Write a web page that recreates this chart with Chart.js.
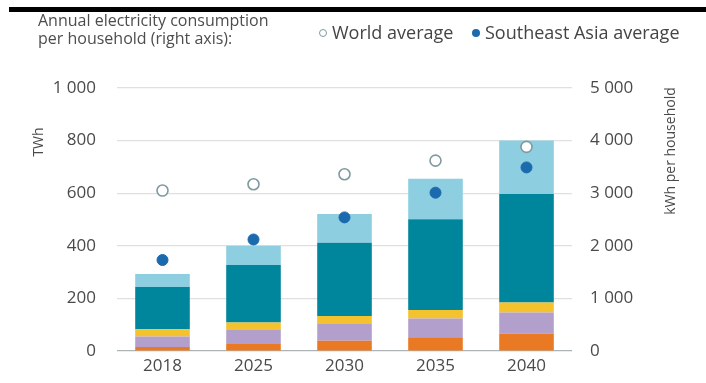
<!DOCTYPE html>
<html>
<head>
<meta charset="utf-8">
<script src="https://cdn.jsdelivr.net/npm/chart.js@4/dist/chart.umd.min.js"></script>
<style>
  html, body { margin: 0; padding: 0; background: #fff; }
  #wrap { position: relative; width: 706px; height: 383px; overflow: hidden; font-family: "Open Sans", sans-serif; color: #444; }
  #rule { position: absolute; left: 9px; right: 0; top: 7px; height: 5px; background: #000; }
  #cv { position: absolute; left: 0; top: 0; }
  .hdr { position: absolute; left: 38px; top: 11px; font-size: 16px; line-height: 18px; color: #4d4d4d; white-space: nowrap; }
  .leg { position: absolute; top: 22px; font-size: 18px; line-height: 20px; color: #444; white-space: nowrap; }
  .dot { display: inline-block; width: 8px; height: 8px; border-radius: 50%; margin-right: 5px; vertical-align: 2px; box-sizing: border-box; }
</style>
</head>
<body>
<div id="wrap">
  <div id="rule"></div>
  <canvas id="cv" width="706" height="383"></canvas>
  <div class="hdr">Annual electricity consumption<br>per household (right axis):</div>
  <div class="leg" style="left:319px"><span class="dot" style="border:1.3px solid #7f9aa0;background:#fff"></span>World average</div>
  <div class="leg" style="left:472px"><span class="dot" style="background:#1b6aae"></span>Southeast Asia average</div>
</div>
<script>
// Years on the category axis
const years = ['2018', '2025', '2030', '2035', '2040'];

// Stacked demand components (TWh), bottom to top
const seriesOrange = [15, 27, 39, 52, 67];
const seriesPurple = [40, 53, 64, 72, 79];
const seriesYellow = [28, 28, 30, 32, 38];
const seriesTeal   = [160, 219, 279, 345, 413];
const seriesLight  = [50, 73, 109, 154, 203];

// Annual electricity consumption per household (kWh, right axis)
const worldAverage = [3050, 3170, 3360, 3620, 3880];
const seaAverage   = [1730, 2120, 2540, 3010, 3490];

// Tick labels
const twhTicks = ['0', '200', '400', '600', '800', '1 000'];
const kwhTicks = ['0', '1 000', '2 000', '3 000', '4 000', '5 000'];

const FONT = '"Open Sans", sans-serif';
const TICK_COLOR = '#4a4a4a';
const TICK_SIZE = 17;

function bar(label, data, color) {
  return { type: 'bar', label, data, backgroundColor: color, borderWidth: 0,
           yAxisID: 'y', order: 2, barPercentage: 0.6, categoryPercentage: 1 };
}

const axisTitles = {
  id: 'axisTitles',
  afterDraw(chart) {
    const c = chart.ctx;
    const put = (text, x, y) => {
      c.save();
      c.fillStyle = '#4a4a4a';
      c.font = '14px ' + FONT;
      c.textAlign = 'center';
      c.textBaseline = 'middle';
      c.translate(x, y);
      c.rotate(-Math.PI / 2);
      c.fillText(text, 0, 0);
      c.restore();
    };
    put('TWh', 39, 142);
    put('kWh per household', 671, 151);
  }
};

new Chart(document.getElementById('cv'), {
  data: {
    labels: years,
    datasets: [
      bar('Orange', seriesOrange, '#e97a23'),
      bar('Purple', seriesPurple, '#b39fcb'),
      bar('Yellow', seriesYellow, '#f3c22c'),
      bar('Teal', seriesTeal, '#00869c'),
      bar('Light blue', seriesLight, '#8dcfe1'),
      { type: 'line', label: 'World average', data: worldAverage, yAxisID: 'y2', order: 0,
        showLine: false, pointStyle: 'circle', pointRadius: 5.5, pointHoverRadius: 5.5,
        pointBackgroundColor: '#ffffff', pointBorderColor: '#7f9aa0', pointBorderWidth: 1.6 },
      { type: 'line', label: 'Southeast Asia average', data: seaAverage, yAxisID: 'y2', order: 0,
        showLine: false, pointStyle: 'circle', pointRadius: 5.5, pointHoverRadius: 5.5,
        pointBackgroundColor: '#1b6aae', pointBorderColor: '#1b6aae', pointBorderWidth: 1 }
    ]
  },
  options: {
    responsive: false,
    animation: false,
    layout: { padding: { top: 88, left: 0, right: 0, bottom: 0 } },
    plugins: { legend: { display: false }, tooltip: { enabled: false } },
    scales: {
      x: {
        stacked: true,
        grid: { display: false, drawTicks: false },
        border: { display: false },
        ticks: { color: TICK_COLOR, font: { family: FONT, size: TICK_SIZE }, padding: 5 },
        afterFit(s) { s.height = 32; }
      },
      y: {
        stacked: true,
        position: 'left',
        min: 0, max: 1000,
        ticks: { stepSize: 200, color: TICK_COLOR, font: { family: FONT, size: TICK_SIZE }, padding: 21,
                 callback: (v, i) => twhTicks[i] },
        grid: { drawTicks: false, lineWidth: 1.2,
                color: ctx => ctx.tick && ctx.tick.value === 0 ? '#aeb4b6' : '#e0e0e0' },
        border: { display: false },
        afterFit(s) { s.width = 117; }
      },
      y2: {
        position: 'right',
        min: 0, max: 5000,
        ticks: { stepSize: 1000, color: TICK_COLOR, font: { family: FONT, size: TICK_SIZE }, padding: 18,
                 callback: (v, i) => kwhTicks[i] },
        grid: { display: false, drawTicks: false },
        border: { display: false },
        afterFit(s) { s.width = 134; }
      }
    }
  },
  plugins: [axisTitles]
});
</script>
</body>
</html>
